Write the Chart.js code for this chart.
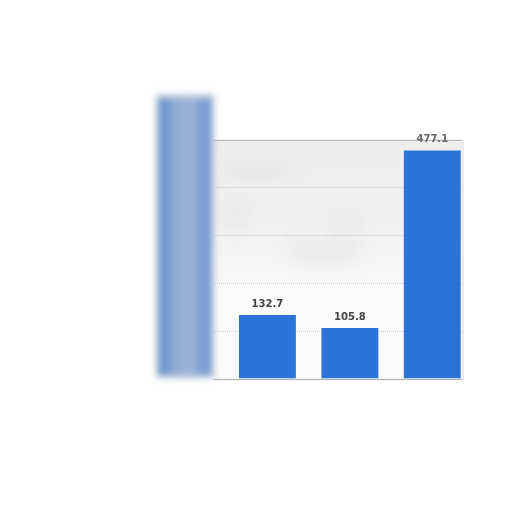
<!DOCTYPE html>
<html><head><meta charset="utf-8">
<script src="https://cdn.jsdelivr.net/npm/chart.js@4"></script>
<style>html,body{margin:0;padding:0;background:#fff;}#wrap{width:512px;height:512px;}</style>
</head><body><div id="wrap"><canvas id="c" width="512" height="512"></canvas></div>
<script>
const categories = ["1", "2", "3", "4"];
const values = [593, 132.7, 105.8, 477.1];
const valueLabels = ["", "132.7", "105.8", "477.1"];
const yTicks = [0, 100, 200, 300, 400, 500];

const panel = {
  id: 'panel',
  beforeDatasetsDraw(chart) {
    const ctx = chart.ctx, y = chart.scales.y;
    const L = 213, R = 462, T = y.getPixelForValue(500), B = y.getPixelForValue(0);
    ctx.save();
    ctx.fillStyle = 'rgba(0,0,0,0.08)';
    ctx.fillRect(L, T, R - L + 2, B - T + 2);
    ctx.fillStyle = '#fbfbfb';
    ctx.fillRect(L, T, R - L, B - T);
    const g = ctx.createLinearGradient(0, T, 0, y.getPixelForValue(200));
    g.addColorStop(0, '#eeeeee');
    g.addColorStop(0.6, '#f1f1f1');
    g.addColorStop(1, '#f8f8f8');
    ctx.fillStyle = g;
    ctx.fillRect(L, T, R - L, y.getPixelForValue(200) - T);
    ctx.filter = 'blur(9px)';
    ctx.fillStyle = 'rgba(0,0,0,0.035)';
    ctx.fillRect(222, 160, 70, 20);
    ctx.fillRect(225, 200, 20, 30);
    ctx.fillRect(290, 240, 70, 25);
    ctx.fillRect(330, 215, 30, 20);
    ctx.filter = 'none';
    ctx.strokeStyle = '#c8c8c8';
    ctx.lineWidth = 1;
    ctx.setLineDash([1, 1]);
    yTicks.slice(1, -1).forEach(v => {
      const py = Math.round(y.getPixelForValue(v)) + 0.5;
      ctx.beginPath(); ctx.moveTo(L, py); ctx.lineTo(R, py); ctx.stroke();
    });
    ctx.setLineDash([]);
    ctx.strokeStyle = '#b5b5b5';
    ctx.beginPath(); ctx.moveTo(L, Math.round(T) + 0.5); ctx.lineTo(R, Math.round(T) + 0.5); ctx.stroke();
    ctx.beginPath(); ctx.moveTo(L, Math.round(B) + 0.5); ctx.lineTo(R, Math.round(B) + 0.5); ctx.stroke();
    ctx.restore();
  },
  afterDatasetsDraw(chart) {
    const ctx = chart.ctx, meta = chart.getDatasetMeta(0);
    ctx.save();
    const b0 = meta.data[0];
    const x0 = b0.x - b0.width / 2, w0 = b0.width;
    ctx.filter = 'blur(3px)';
    ctx.fillStyle = '#c4cedc';
    ctx.fillRect(x0 - 1, b0.y - 1, w0 + 2, b0.base - b0.y + 1);
    const gg = ctx.createLinearGradient(x0, 0, x0 + w0, 0);
    gg.addColorStop(0, '#4f84cc');
    gg.addColorStop(0.3, '#8eaad4');
    gg.addColorStop(0.6, '#9cb3d6');
    gg.addColorStop(1, '#5e8fd0');
    ctx.fillStyle = gg;
    ctx.fillRect(x0 + 3, b0.y + 4, w0 - 6, b0.base - b0.y - 8);
    ctx.filter = 'none';
    ctx.font = 'bold 10px "DejaVu Sans", sans-serif';
    ctx.textAlign = 'center';
    ctx.textBaseline = 'bottom';
    meta.data.forEach((el, i) => {
      if (!valueLabels[i]) return;
      ctx.fillStyle = i === 3 ? '#6a6a6a' : '#444';
      ctx.fillText(valueLabels[i], el.x, el.y - 6);
    });
    ctx.restore();
  }
};

new Chart(document.getElementById('c'), {
  type: 'bar',
  data: {
    labels: categories,
    datasets: [{
      data: values,
      backgroundColor: values.map((v, i) => i === 0 ? 'rgba(0,0,0,0)' : '#2a74d8'),
      borderWidth: 0,
      categoryPercentage: 1,
      barPercentage: 0.69
    }]
  },
  options: {
    responsive: false,
    animation: false,
    devicePixelRatio: 1,
    layout: { padding: { left: 143.8, right: 38.5, top: 139.5, bottom: 133.5 } },
    plugins: { legend: { display: false }, tooltip: { enabled: false } },
    scales: {
      x: { display: false, offset: true },
      y: { display: false, min: 0, max: 500 }
    }
  },
  plugins: [panel]
});
</script></body></html>
